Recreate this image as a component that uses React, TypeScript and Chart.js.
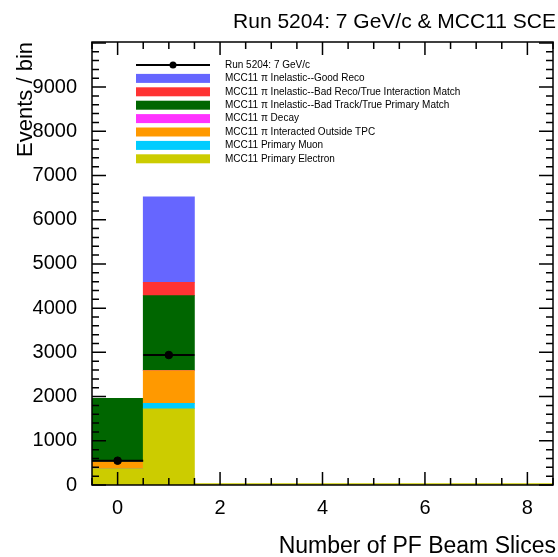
import React, { useEffect, useRef } from "react";
import { Chart, registerables } from "chart.js";

Chart.register(...registerables);

// Bin centres of the "Number of PF Beam Slices" histogram
const bins = [0, 1, 2, 3, 4, 5, 6, 7, 8];

// Stacked MC components, bottom to top (events per bin)
const primaryElectron = [360, 1725, 0, 0, 0, 0, 0, 0, 0];
const primaryMuon = [0, 123, 0, 0, 0, 0, 0, 0, 0];
const interactedOutsideTPC = [160, 738, 0, 0, 0, 0, 0, 0, 0];
const piDecay = [0, 0, 0, 0, 0, 0, 0, 0, 0];
const badTrackPrimaryMatch = [1441, 1697, 0, 0, 0, 0, 0, 0, 0];
const badRecoInteractionMatch = [0, 303, 0, 0, 0, 0, 0, 0, 0];
const goodReco = [0, 1930, 0, 0, 0, 0, 0, 0, 0];

// Data (Run 5204), only non-empty bins
const dataBins = [0, 1];
const dataValues = [550, 2940];

const yTickValues = [0, 1000, 2000, 3000, 4000, 5000, 6000, 7000, 8000, 9000];
const xTickValues = [0, 2, 4, 6, 8];

const titleText = "Run 5204: 7 GeV/c & MCC11 SCE";
const xTitle = "Number of PF Beam Slices";
const yTitle = "Events / bin";
const dataLabel = "Run 5204: 7 GeV/c";

const mcLabels = [
  "MCC11 \u03c0 Inelastic--Good Reco",
  "MCC11 \u03c0 Inelastic--Bad Reco/True Interaction Match",
  "MCC11 \u03c0 Inelastic--Bad Track/True Primary Match",
  "MCC11 \u03c0 Decay",
  "MCC11 \u03c0 Interacted Outside TPC",
  "MCC11 Primary Muon",
  "MCC11 Primary Electron",
];
const mcColors = ["#6666ff", "#ff3333", "#006600", "#ff33ff", "#ff9900", "#00ccff", "#cccc00"];
const mcValues = [
  goodReco,
  badRecoInteractionMatch,
  badTrackPrimaryMatch,
  piDecay,
  interactedOutsideTPC,
  primaryMuon,
  primaryElectron,
];

const FONT = "'Liberation Sans', Arial, Helvetica, sans-serif";

const framePlugin = {
  id: "rootFrame",
  afterDatasetsDraw(chart: any) {
    const ctx = chart.ctx as CanvasRenderingContext2D;
    const { left, right, top, bottom } = chart.chartArea;
    const xs = chart.scales.x;
    const ys = chart.scales.y;

    ctx.save();
    // empty-bin outline of the bottom histogram along zero
    ctx.strokeStyle = "#cccc00";
    ctx.lineWidth = 1.5;
    ctx.beginPath();
    ctx.moveTo(xs.getPixelForValue(1.5), ys.getPixelForValue(0) - 1);
    ctx.lineTo(right, ys.getPixelForValue(0) - 1);
    ctx.stroke();

    // data error bars
    ctx.strokeStyle = "#000";
    ctx.lineWidth = 2;
    dataBins.forEach((b, i) => {
      const v = dataValues[i];
      const yp = ys.getPixelForValue(v);
      ctx.beginPath();
      ctx.moveTo(xs.getPixelForValue(b - 0.5), yp);
      ctx.lineTo(xs.getPixelForValue(b + 0.5), yp);
      const e = Math.sqrt(v);
      const xp = xs.getPixelForValue(b);
      ctx.moveTo(xp, ys.getPixelForValue(v - e));
      ctx.lineTo(xp, ys.getPixelForValue(v + e));
      ctx.stroke();
    });

    // frame
    ctx.lineWidth = 1.5;
    ctx.strokeRect(left, top, right - left, bottom - top);

    // ticks inside the frame
    ctx.lineWidth = 1.5;
    ctx.beginPath();
    for (let v = 0; v <= 10000; v += 200) {
      const yp = ys.getPixelForValue(v);
      if (yp < top - 0.5) break;
      const len = v % 1000 === 0 ? 14 : 7;
      ctx.moveTo(left, yp);
      ctx.lineTo(left + len, yp);
      ctx.moveTo(right, yp);
      ctx.lineTo(right - len, yp);
    }
    for (let v = -0.5; v <= 8.5; v += 0.5) {
      const xp = xs.getPixelForValue(v);
      const major = Math.abs(v % 2) < 1e-6;
      const len = major ? 13 : 7;
      ctx.moveTo(xp, bottom);
      ctx.lineTo(xp, bottom - len);
      ctx.moveTo(xp, top);
      ctx.lineTo(xp, top + len);
    }
    ctx.stroke();

    // legend
    const lx0 = 136;
    const lx1 = 210;
    const tx = 225;
    const y0 = 65;
    const dy = 13.4;
    ctx.font = `10px ${FONT}`;
    ctx.textBaseline = "middle";
    ctx.textAlign = "left";
    ctx.fillStyle = "#000";
    ctx.strokeStyle = "#000";
    ctx.lineWidth = 2;
    ctx.beginPath();
    ctx.moveTo(lx0, y0);
    ctx.lineTo(lx1, y0);
    ctx.stroke();
    ctx.beginPath();
    ctx.arc((lx0 + lx1) / 2, y0, 3.5, 0, Math.PI * 2);
    ctx.fill();
    ctx.fillText(dataLabel, tx, y0);
    mcLabels.forEach((lab, i) => {
      const cy = y0 + dy * (i + 1);
      ctx.fillStyle = mcColors[i];
      ctx.fillRect(lx0, cy - 4.5, lx1 - lx0, 9);
      ctx.fillStyle = "#000";
      ctx.fillText(lab, tx, cy);
    });

    // titles
    ctx.fillStyle = "#000";
    ctx.font = `21px ${FONT}`;
    ctx.textAlign = "right";
    ctx.textBaseline = "alphabetic";
    ctx.fillText(titleText, 556, 28);

    ctx.font = `23px ${FONT}`;
    ctx.fillText(xTitle, 556, 553);

    ctx.save();
    ctx.font = `22px ${FONT}`;
    ctx.translate(32, 42);
    ctx.rotate(-Math.PI / 2);
    ctx.textAlign = "right";
    ctx.textBaseline = "alphabetic";
    ctx.fillText(yTitle, 0, 0);
    ctx.restore();

    ctx.restore();
  },
};

export default function App() {
  const ref = useRef<HTMLCanvasElement | null>(null);

  useEffect(() => {
    if (!ref.current) return;
    const stackOrder = [6, 5, 4, 3, 2, 1, 0];
    const barSets = stackOrder.map((k) => ({
      type: "bar" as const,
      label: mcLabels[k],
      data: bins.map((b, i) => ({ x: b, y: mcValues[k][i] })),
      backgroundColor: mcColors[k],
      borderWidth: 0,
      barPercentage: 1,
      categoryPercentage: 1,
      stack: "mc",
      order: 2,
    }));
    const dataSet = {
      type: "line" as const,
      label: dataLabel,
      data: dataBins.map((b, i) => ({ x: b, y: dataValues[i] })),
      showLine: false,
      pointRadius: 3.8,
      pointBackgroundColor: "#000",
      pointBorderColor: "#000",
      stack: "data",
      order: 0,
    };

    const chart = new Chart(ref.current, {
      type: "bar",
      data: { datasets: [...barSets, dataSet] as any },
      options: {
        responsive: false,
        animation: false,
        events: [],
        layout: { padding: { top: 42, right: 1, left: 0, bottom: 0 } },
        plugins: { legend: { display: false }, tooltip: { enabled: false } },
        scales: {
          x: {
            type: "linear",
            min: -0.5,
            max: 8.5,
            offset: false,
            stacked: true,
            grid: { display: false, offset: false },
            border: { display: false },
            ticks: {
              color: "#000",
              font: { size: 20, family: FONT },
              padding: 3,
              maxRotation: 0,
              callback: (v: any) => String(v),
            },
            afterBuildTicks: (s: any) => {
              s.ticks = xTickValues.map((v) => ({ value: v }));
            },
            afterFit: (s: any) => {
              s.height = 72;
            },
          },
          y: {
            type: "linear",
            min: 0,
            max: 10020,
            stacked: true,
            grid: { display: false },
            border: { display: false },
            ticks: {
              color: "#000",
              font: { size: 20, family: FONT },
              padding: 7,
              callback: (v: any) => String(v),
            },
            afterBuildTicks: (s: any) => {
              s.ticks = yTickValues.map((v) => ({ value: v }));
            },
            afterFit: (s: any) => {
              s.width = 92;
            },
          },
        },
      },
      plugins: [framePlugin],
    });
    return () => chart.destroy();
  }, []);

  return (
    <div style={{ position: "fixed", left: 0, top: 0, width: 558, height: 557, background: "#fff" }}>
      <canvas ref={ref} width={558} height={557} style={{ display: "block" }} />
    </div>
  );
}
